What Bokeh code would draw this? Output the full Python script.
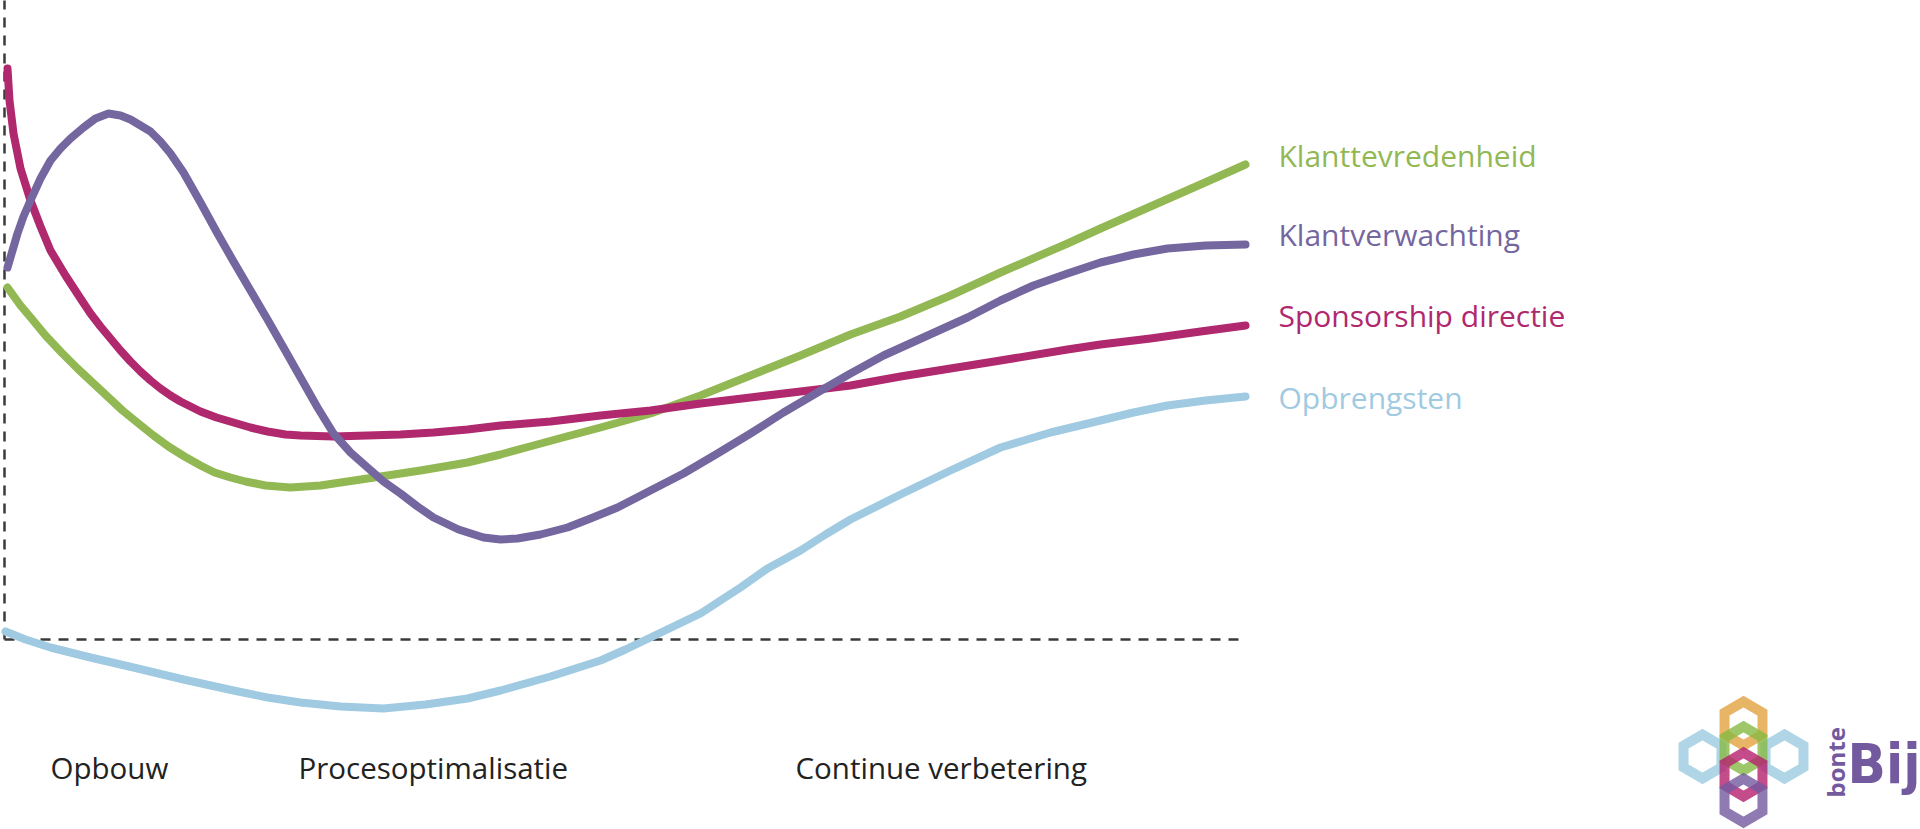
import math
from bokeh.plotting import figure
from bokeh.models import Range1d
from bokeh.core.properties import value
from bokeh.embed import file_html
from bokeh.resources import INLINE

# ---- data (x = time, y = level relative to the dashed baseline) ----
series_names = ["Klanttevredenheid", "Klantverwachting", "Sponsorship directie", "Opbrengsten"]
series_colors = ["#92b853", "#74669f", "#b0286e", "#9fcae2"]

klanttevredenheid_x = [3, 16, 27, 41, 57, 73, 88, 103, 118, 134, 149, 164, 180, 196, 210, 226, 241, 261, 286, 316,
                       363, 416, 463, 496, 529, 562, 596, 646, 696, 746, 796, 846, 896, 946, 996, 1063, 1096,
                       1146, 1196, 1241]
klanttevredenheid_y = [352, 334, 321, 304, 287, 271, 257, 243, 229, 216, 204, 193, 183, 174, 167, 162, 158, 154, 152, 154,
                       161, 169, 177, 185, 194, 203, 212, 226, 244, 264, 284, 305, 323, 344, 367, 396, 411,
                       433, 455, 475]

klantverwachting_x = [3, 8, 13, 19, 26, 36, 46, 56, 66, 79, 91, 104, 116, 126, 136, 146, 156, 166, 179, 196, 213, 229,
                      246, 263, 279, 296, 313, 329, 346, 363, 379, 396, 413, 429, 454, 479, 496, 513, 536, 563, 586,
                      613, 646, 679, 713, 746, 779, 813, 846, 879, 921, 963, 996, 1029, 1063, 1096, 1129, 1163, 1201, 1241]
klantverwachting_y = [372, 389, 406, 423, 439, 461, 479, 491, 501, 512, 521, 526, 524, 520, 514, 508, 498, 486, 467, 437,
                      406, 378, 349, 320, 292, 262, 232, 206, 187, 172, 158, 146, 133, 122, 110, 102, 100, 101, 105,
                      112, 121, 132, 149, 166, 186, 206, 227, 247, 266, 284, 303, 322, 339, 354, 366, 377, 385, 391,
                      394, 395]

sponsorship_x = [3, 5, 9, 16, 26, 36, 46, 61, 76, 86, 96, 106, 116, 126, 136, 146, 156, 166, 176, 186, 196, 212, 229,
                 246, 263, 281, 296, 329, 363, 396, 429, 463, 496, 546, 596, 646, 696, 746, 796, 846, 896, 946, 996,
                 1063, 1096, 1146, 1196, 1241]
sponsorship_y = [571, 539, 506, 471, 439, 413, 389, 364, 341, 326, 313, 301, 289, 278, 268, 259, 251, 244, 238, 233, 228,
                 222, 217, 212, 208, 205, 204, 203, 204, 205, 207, 210, 214, 218, 224, 229, 236, 242, 248, 254, 263,
                 271, 279, 290, 295, 301, 308, 314]

opbrengsten_x = [1, 21, 46, 86, 129, 179, 229, 263, 296, 336, 379, 421, 463, 496, 546, 596, 621, 646, 671, 696, 716,
                 736, 763, 796, 821, 846, 896, 946, 996, 1046, 1096, 1129, 1163, 1201, 1241]
opbrengsten_y = [8, 0, -8, -18, -28, -40, -51, -58, -63, -67, -69, -65, -59, -51, -37, -21, -10, 2, 14, 26, 39,
                 52, 71, 89, 105, 120, 145, 169, 192, 207, 219, 227, 234, 239, 243]

phase_labels = ["Opbouw", "Procesoptimalisatie", "Continue verbetering"]
phase_x = [46, 294, 791]

axis_end_x = 1241
axis_top_y = 645

# logo (bonte Bij): ring centres and colours
logo_x = [1698, 1780, 1739, 1739, 1739, 1739]
logo_y = [-117, -117, -84, -109, -135, -161]
logo_colors = ["#9ccae0", "#9ccae0", "#e2a340", "#86b943", "#b51f6e", "#735a9f"]

# ---- figure ----
p = figure(width=1920, height=829, output_backend="svg", toolbar_location=None,
           x_range=Range1d(-4, 1916), y_range=Range1d(-190, 639),
           min_border=0, outline_line_color=None, background_fill_color="white",
           border_fill_color="white")
p.axis.visible = False
p.grid.visible = False

dash_color = "#3a3a3a"
p.line([0, axis_end_x], [0, 0], line_color=dash_color, line_width=2.5, line_dash="10 8")
p.line([0, 0], [0, axis_top_y], line_color=dash_color, line_width=2.5, line_dash="10 8")

xs = [klanttevredenheid_x, klantverwachting_x, sponsorship_x, opbrengsten_x]
ys = [klanttevredenheid_y, klantverwachting_y, sponsorship_y, opbrengsten_y]
order = [3, 0, 2, 1]
for i in order:
    p.line(xs[i], ys[i], line_color=series_colors[i], line_width=8,
           line_cap="round", line_join="round")

label_gap = [-9, -10, -10, 1]
for i in range(4):
    p.text([xs[i][-1] + 33], [ys[i][-1] - label_gap[i]], text=[series_names[i]],
           text_color=series_colors[i], text_font=value("Open Sans"),
           text_font_size=value("30px"), text_baseline="alphabetic", text_align="left")

p.text(phase_x, [-128] * len(phase_x), text=phase_labels, text_color="#222222",
       text_font=value("Open Sans"), text_font_size=value("29.5px"),
       text_baseline="alphabetic", text_align="left")

# logo hexagon rings
rc = 21.9
hx, hy = [], []
for cx, cy in zip(logo_x, logo_y):
    hx.append([cx + rc * math.cos(math.radians(90 + 60 * k)) for k in range(6)])
    hy.append([cy + rc * math.sin(math.radians(90 + 60 * k)) for k in range(6)])
p.patches(hx, hy, fill_alpha=0, line_color=logo_colors, line_width=10,
          line_alpha=0.8, line_join="miter")

p.text([1831], [-158], text=["bonte"], angle=math.pi / 2, text_color="#735a9f",
       text_font=value("Open Sans"), text_font_size=value("24px"),
       text_font_style="bold", text_baseline="alphabetic", text_align="left")
p.text([1843], [-124], text=["Bij"], text_color="#735a9f",
       text_font=value("DejaVu Sans Condensed"),
       text_font_size=value("56px"), text_font_style="bold",
       text_baseline="alphabetic", text_align="left")

open("out.html", "w").write(file_html(p, INLINE))
